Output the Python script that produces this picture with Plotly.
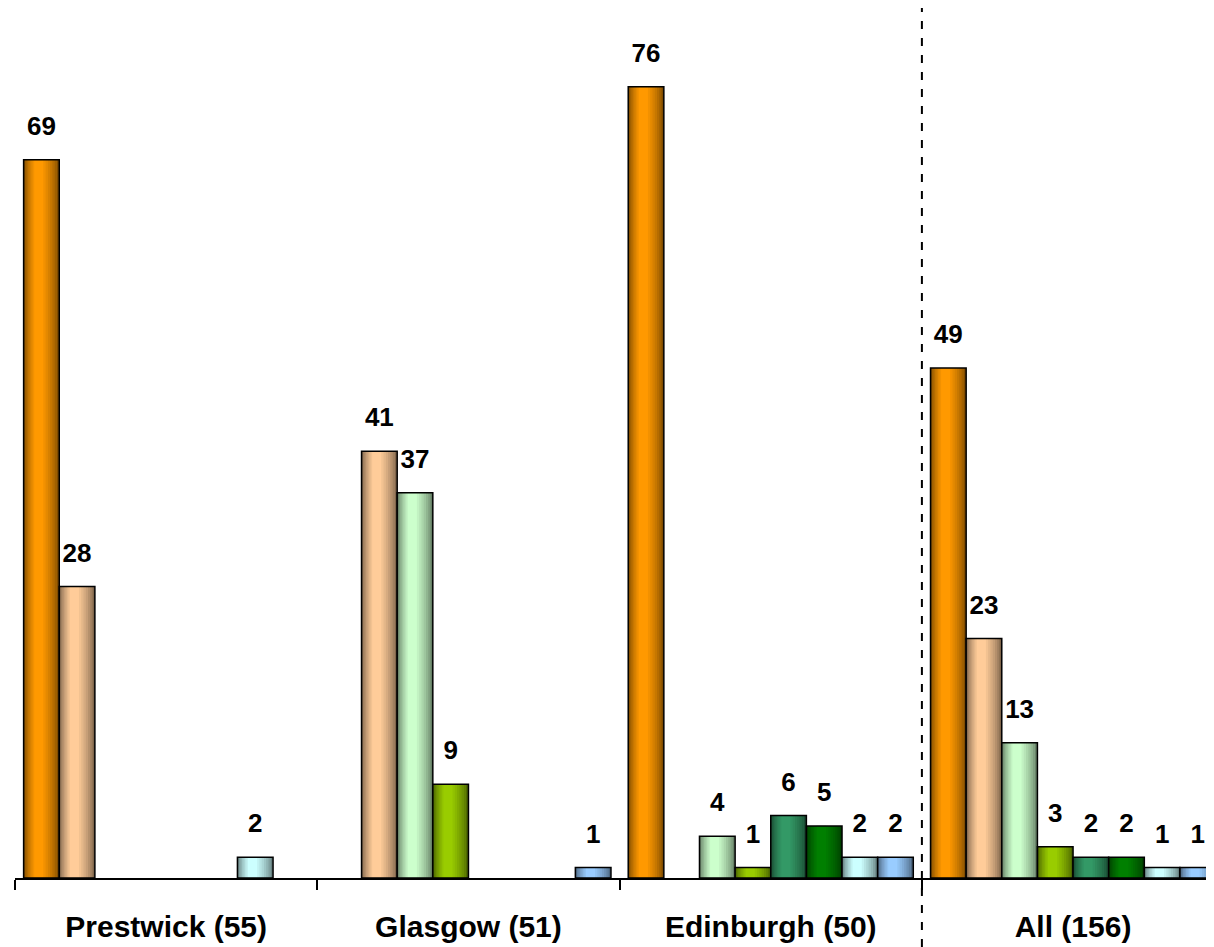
import plotly.graph_objects as go

# ---- data ----
categories = ["Prestwick (55)", "Glasgow (51)", "Edinburgh (50)", "All (156)"]
series_names = ["Series 1", "Series 2", "Series 3", "Series 4",
                "Series 5", "Series 6", "Series 7", "Series 8"]
s1 = [69, None, 76, 49]
s2 = [28, 41, None, 23]
s3 = [None, 37, 4, 13]
s4 = [None, 9, 1, 3]
s5 = [None, None, 6, 2]
s6 = [None, None, 5, 2]
s7 = [2, None, 2, 1]
s8 = [None, 1, 2, 1]
series_values = [s1, s2, s3, s4, s5, s6, s7, s8]

# ---- styles ----
center_colors = ["#FF9900", "#FFCC99", "#CCFFCC", "#99CC00",
                 "#339966", "#007F00", "#CCFFFF", "#99CCFF"]
EDGE_FACTOR = 0.5
N_LAYERS = 8
BRIGHT_POS = 0.4
FONT = "Liberation Sans, Arial, sans-serif"

# page offset (browser body margin) compensation
PAGE_OFF = 8
FIG_W, FIG_H = 1214 - PAGE_OFF, 947 - PAGE_OFF
AXIS_Y = 878 - PAGE_OFF          # axis position in figure px
PLOT_LEFT = 15 - PAGE_OFF
CAT_PX = 302.3

n_series = len(series_values)
gap = 0.057
w = (1 - gap) / n_series


def hex_to_rgb(h):
    h = h.lstrip("#")
    return tuple(int(h[i:i + 2], 16) for i in (0, 2, 4))


def mix(c1, c2, t):
    return "rgb(%d,%d,%d)" % tuple(round(a + (b - a) * t) for a, b in zip(c1, c2))


xs = list(range(len(categories)))
fig = go.Figure()

for i, (name, vals, col) in enumerate(zip(series_names, series_values, center_colors)):
    c = hex_to_rgb(col)
    e = tuple(v * EDGE_FACTOR for v in c)
    left = -0.5 + gap / 2 + i * w
    for k in range(N_LAYERS):
        s = k / N_LAYERS * 0.85
        t = (k / (N_LAYERS - 1)) ** 0.7
        fig.add_trace(go.Bar(
            x=xs, y=vals, name=name, showlegend=False,
            offset=left + w * BRIGHT_POS * s, width=w * (1 - s),
            marker=dict(color=mix(e, c, t), line=dict(width=0)),
            hoverinfo="skip",
        ))
    # outline
    fig.add_trace(go.Bar(
        x=xs, y=vals, name=name, showlegend=False,
        offset=left, width=w,
        marker=dict(color="rgba(0,0,0,0)", line=dict(color="black", width=1.5)),
    ))
    # value labels
    fig.add_trace(go.Scatter(
        x=[xx + left + w / 2 for xx in xs], y=vals, mode="markers+text",
        text=[("" if v is None else str(v)) for v in vals],
        textposition="top center",
        textfont=dict(family=FONT, size=26, color="black", weight="bold"),
        marker=dict(size=28, opacity=0), showlegend=False, hoverinfo="skip",
        cliponaxis=False,
    ))

px_per_unit = 10.41
fig.update_layout(
    width=FIG_W, height=FIG_H,
    margin=dict(l=PLOT_LEFT, r=0, t=0, b=FIG_H - AXIS_Y, autoexpand=False),
    barmode="overlay",
    paper_bgcolor="white", plot_bgcolor="white",
    showlegend=False,
    xaxis=dict(
        range=[-0.5, -0.5 + (FIG_W - PLOT_LEFT) / CAT_PX],
        tickvals=xs, ticktext=categories, ticks="",
        tickfont=dict(family=FONT, size=30, color="black", weight="bold"),
        ticklabelstandoff=21,
        showline=True, linecolor="black", linewidth=1.5,
        showgrid=False, zeroline=False, automargin=False,
        minor=dict(tickvals=[xx - 0.5 for xx in xs] + [len(xs) - 0.5],
                   ticks="outside", ticklen=10, tickwidth=1.5, tickcolor="black",
                   showgrid=False),
    ),
    yaxis=dict(range=[0, AXIS_Y / px_per_unit], visible=False,
               showgrid=False, zeroline=False),
    shapes=[dict(type="line", xref="x", yref="paper",
                 x0=len(categories) - 1.5, x1=len(categories) - 1.5,
                 y0=-(FIG_H - AXIS_Y) / AXIS_Y, y1=1,
                 line=dict(color="black", width=2, dash="8px,9px"))],
)

fig.write_html("out.html")
